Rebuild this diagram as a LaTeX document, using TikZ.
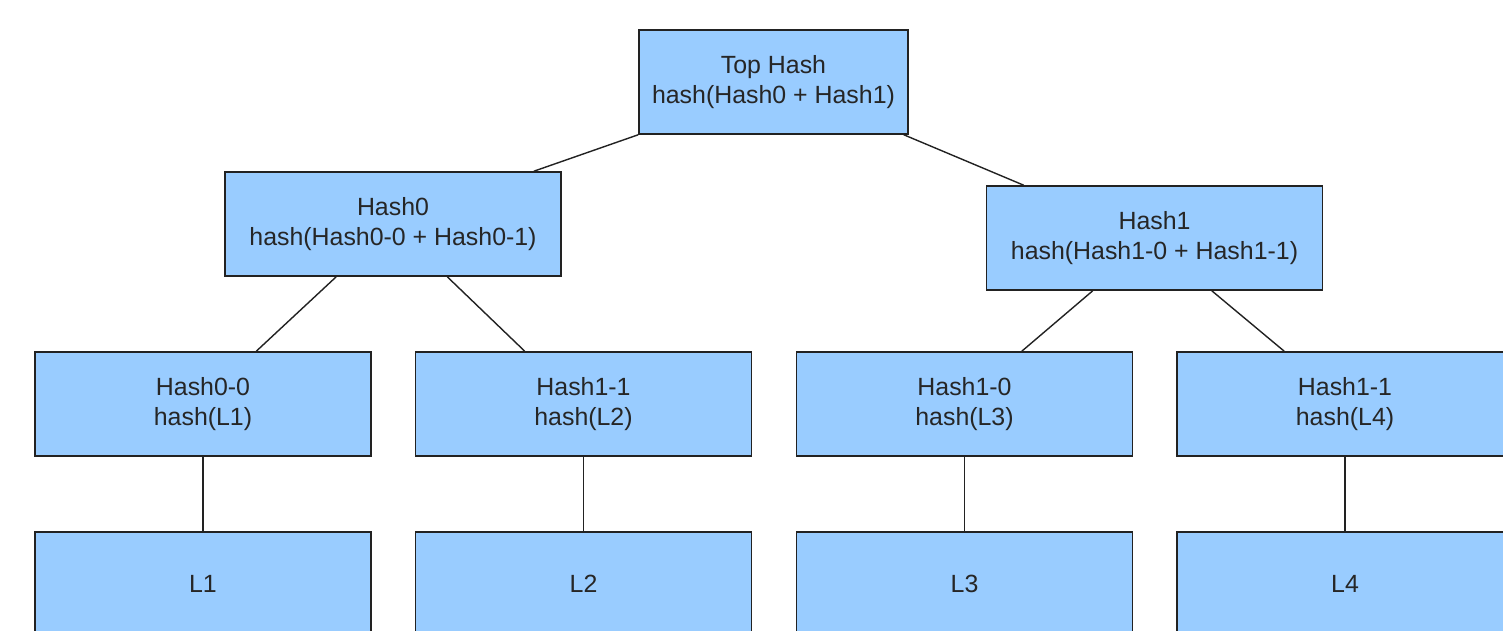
\documentclass[tikz,border=0pt]{standalone}
\usepackage{fontspec}
\setmainfont{Liberation Sans}
\usetikzlibrary{calc}
\definecolor{boxfill}{HTML}{99CCFF}
\definecolor{boxline}{HTML}{222222}
\begin{document}
\begin{tikzpicture}[x=0.5pt,y=-0.5pt,
  hbox/.style={draw=boxline, fill=boxfill, line width=0.75pt, inner sep=0pt,
    align=center, minimum height=52pt,
    font=\fontsize{12.45pt}{15pt}\selectfont, text=black!85},
  wide/.style={hbox, minimum width=168pt},
  conn/.style={draw=boxline, line width=0.7pt}]
\useasboundingbox (0,0) rectangle (1503,631);
\clip (0,0) rectangle (1503,631);
\fill[white] (0,0) rectangle (1503,631);
\node[hbox, minimum width=134.5pt] (top) at (773.5,82) {Top Hash\\hash(Hash0 + Hash1)};
\node[wide] (h0) at (393,224) {Hash0\\hash(Hash0-0 + Hash0-1)};
\node[wide] (h1) at (1154.5,238) {Hash1\\hash(Hash1-0 + Hash1-1)};
\node[wide] (n1) at (203,404) {Hash0-0\\hash(L1)};
\node[wide] (n2) at (583.5,404) {Hash1-1\\hash(L2)};
\node[wide] (n3) at (964.5,404) {Hash1-0\\hash(L3)};
\node[wide] (n4) at (1345,404) {Hash1-1\\hash(L4)};
\node[wide] (l1) at (203,584) {L1};
\node[wide] (l2) at (583.5,584) {L2};
\node[wide] (l3) at (964.5,584) {L3};
\node[wide] (l4) at (1345,584) {L4};
\draw[conn] (top.south west) -- ([xshift=-14pt]h0.north east);
\draw[conn] ([xshift=-2.5pt]top.south east) -- ([xshift=19pt]h1.north west);
\draw[conn] ([xshift=56pt]h0.south west) -- ([xshift=111pt]n1.north west);
\draw[conn] ([xshift=111.5pt]h0.south west) -- ([xshift=55pt]n2.north west);
\draw[conn] ([xshift=53.5pt]h1.south west) -- ([xshift=113pt]n3.north west);
\draw[conn] ([xshift=113pt]h1.south west) -- ([xshift=54pt]n4.north west);
\draw[conn] (n1.south) -- (l1.north);
\draw[conn] (n2.south) -- (l2.north);
\draw[conn] (n3.south) -- (l3.north);
\draw[conn] (n4.south) -- (l4.north);
\end{tikzpicture}
\end{document}
